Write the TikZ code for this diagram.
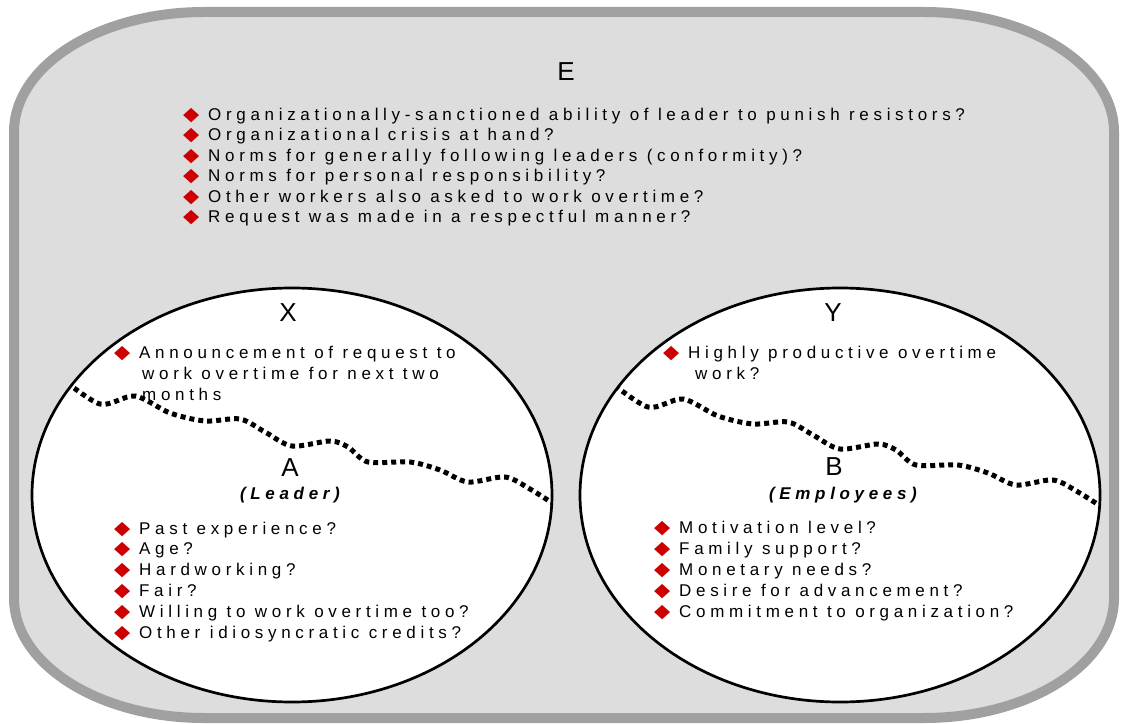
\documentclass[tikz,border=0pt]{standalone}
\usepackage{fontspec}
\setmainfont{Liberation Sans}
\newfontfamily\spaced[LetterSpace=27.5]{Liberation Sans}
\newfontfamily\symfont{DejaVu Sans}
\usetikzlibrary{shapes.geometric, positioning}

\definecolor{panelgray}{RGB}{221,221,221}
\definecolor{rimgray}{RGB}{160,160,160}
\definecolor{bulletred}{RGB}{204,0,0}
\newcommand{\bul}{\makebox[25pt][l]{\color{bulletred}\symfont\fontsize{21}{21}\selectfont\scalebox{1}[0.9]{◆}}}

\begin{document}
\begin{tikzpicture}[
    x=1pt, y=-1pt,
    every node/.style={inner sep=0pt, font=\spaced\fontsize{17}{20}\selectfont},
    item/.style={anchor=base west},
    big/.style={font=\fontsize{26}{26}\selectfont},
    who/.style={anchor=base, font=\spaced\bfseries\itshape\fontsize{17}{20}\selectfont},
    frame/.style={draw=rimgray, line width=10pt, fill=panelgray},
    field/.style={ellipse, draw, line width=2.7pt, fill=white, minimum width=520pt, minimum height=414pt},
    wave/.style={line width=5pt, dash pattern=on 5pt off 4pt}
]
\useasboundingbox (0,0) rectangle (1121,725);

% outer panel
\draw[frame] (204,12) -- (924,12) arc[start angle=270, end angle=360, x radius=190, y radius=120]
    -- (1114,598) arc[start angle=0, end angle=90, x radius=190, y radius=120]
    -- (204,718) arc[start angle=90, end angle=180, x radius=190, y radius=120]
    -- (14,132) arc[start angle=180, end angle=270, x radius=190, y radius=120] -- cycle;

\node[big] (etitle) at (566,72) {E};
\node[item] (e1) at (183,120) {\bul Organizationally-sanctioned ability of leader to punish resistors?};
\node[item] (e2) at (183,140.5) {\bul Organizational crisis at hand?};
\node[item] (e3) at (183,161) {\bul Norms for generally following leaders (conformity)?};
\node[item] (e4) at (183,181.5) {\bul Norms for personal responsibility?};
\node[item] (e5) at (183,202) {\bul Other workers also asked to work overtime?};
\node[item] (e6) at (183,222.5) {\bul Request was made in a respectful manner?};

% the two circles
\node[field] (lead) at (292,495) {};
\node[field] (staff) at (840,495) {};

\begin{scope}
\clip (lead.center) ellipse [x radius=260pt, y radius=207pt];
\draw[wave] plot[smooth] coordinates {(60,377) (100,404) (135,396) (170,413) (205,421) (240,419)
    (265,432) (292,446) (330,441) (348,447) (368,462) (410,462) (440,470) (468,482) (505,477) (530,489) (560,508)};
\end{scope}
\begin{scope}
\clip (staff.center) ellipse [x radius=260pt, y radius=207pt];
\draw[wave, shift={(548,3)}] plot[smooth] coordinates {(60,377) (100,404) (135,396) (170,413) (205,421) (240,419)
    (265,432) (292,446) (330,441) (348,447) (368,462) (410,462) (440,470) (468,482) (505,477) (530,489) (560,508)};
\end{scope}

% leader side
\node[big] (xtitle) at (288,313) {X};
\node[item] (x1) at (114,358) {\bul Announcement of request to};
\node[item] (x1b) at (142,379) {work overtime for next two};
\node[item] (x1c) at (142,400) {months};
\node[big] (atitle) at (290,468) {A};
\node[who] (atag) at (290,499) {(Leader)};
\node[item] (a1) at (114,534) {\bul Past experience?};
\node[item] (a2) at (114,554.5) {\bul Age?};
\node[item] (a3) at (114,575) {\bul Hardworking?};
\node[item] (a4) at (114,596) {\bul Fair?};
\node[item] (a5) at (114,617) {\bul Willing to work overtime too?};
\node[item] (a6) at (114,638) {\bul Other idiosyncratic credits?};

% employee side
\node[big] (ytitle) at (833,313) {Y};
\node[item] (y1) at (663,358) {\bul Highly productive overtime};
\node[item] (y1b) at (695,379) {work?};
\node[big] (btitle) at (834,467) {B};
\node[who] (btag) at (843,499) {(Employees)};
\node[item] (b1) at (654,533) {\bul Motivation level?};
\node[item] (b2) at (654,554) {\bul Family support?};
\node[item] (b3) at (654,575) {\bul Monetary needs?};
\node[item] (b4) at (654,596) {\bul Desire for advancement?};
\node[item] (b5) at (654,617) {\bul Commitment to organization?};

\end{tikzpicture}
\end{document}
